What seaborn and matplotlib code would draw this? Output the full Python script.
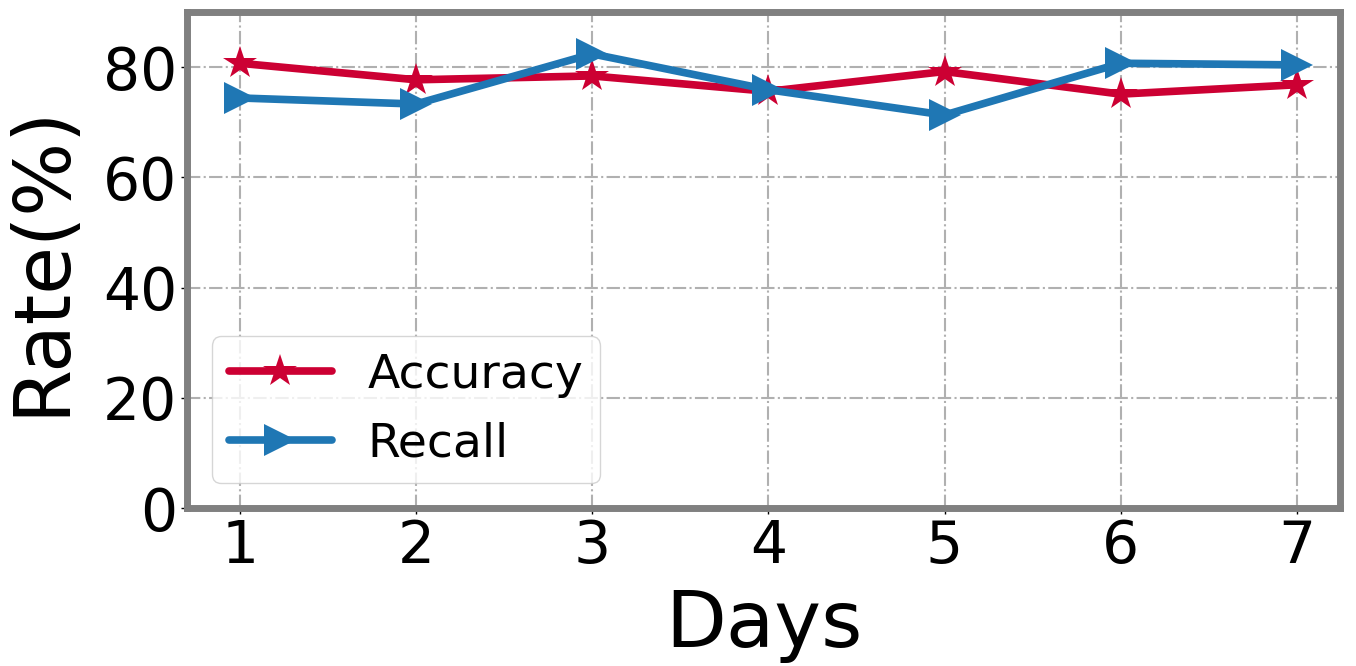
import matplotlib
matplotlib.use("Agg")
import matplotlib.pyplot as plt
import seaborn as sns
import pandas as pd

days = [1, 2, 3, 4, 5, 6, 7]
accuracy = [80.7, 77.7, 78.4, 75.6, 79.2, 75.1, 76.8]
recall = [74.4, 73.3, 82.4, 75.9, 71.3, 80.7, 80.4]
yticks = [0, 20, 40, 60, 80]

sns.set_style("white")
plt.rcParams['font.family'] = ['DejaVu Sans']
plt.rcParams['text.color'] = 'black'
plt.rcParams['axes.labelcolor'] = 'black'
plt.rcParams['xtick.color'] = 'black'
plt.rcParams['ytick.color'] = 'black'

fig = plt.figure(figsize=(13.56, 6.66), dpi=100)
ax = fig.add_axes([187/1356, 1-508/666, (1340-187)/1356, (508-12)/666])

df = pd.DataFrame({"Days": days, "Accuracy": accuracy, "Recall": recall})
sns.lineplot(data=df, x="Days", y="Accuracy", ax=ax, color="#CC0033", lw=5.5,
             marker="*", markersize=25, markeredgewidth=0, label="Accuracy")
sns.lineplot(data=df, x="Days", y="Recall", ax=ax, color="#1f77b4", lw=5.5,
             marker=">", markersize=23, markeredgewidth=0, label="Recall")

ax.set_xlim(0.7, 7.245)
ax.set_ylim(0, 90)
ax.set_xticks(days)
ax.set_yticks(yticks)
ax.tick_params(labelsize=42, length=4, width=1, direction="out", left=True, bottom=True,
               colors="black", pad=3)
ax.grid(True, linestyle="-.", color="#b0b0b0", lw=1.5)
for s in ax.spines.values():
    s.set_color("#808080")
    s.set_linewidth(5)
ax.set_xlabel("Days", fontsize=57, labelpad=9, color="black")
ax.set_ylabel("Rate(%)", fontsize=56, labelpad=17, color="black")
leg = ax.legend(loc="lower left", fontsize=34, frameon=True, handlelength=2.2,
                borderpad=0.35, labelspacing=0.5, handletextpad=0.75,
                borderaxespad=0, bbox_to_anchor=(25/1153, 25/496))
leg.get_frame().set_edgecolor("#cccccc")
fig.savefig("out.png", dpi=100)
